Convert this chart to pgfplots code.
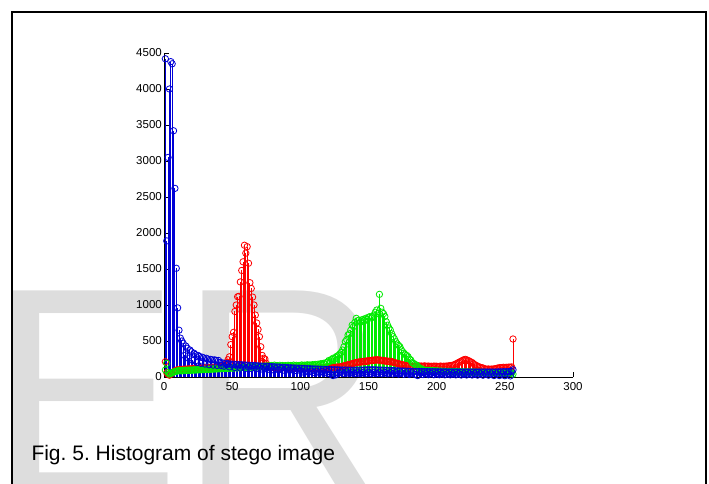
\documentclass[border=0pt]{standalone}
\usepackage{fontspec}
\setmainfont{Liberation Sans}
\usepackage{pgfplots}
\pgfplotsset{compat=1.18}
\definecolor{wm}{RGB}{221,221,221}
\definecolor{mred}{RGB}{255,0,0}
\definecolor{mgreen}{RGB}{0,235,0}
\definecolor{mblue}{RGB}{0,0,215}
\frenchspacing
\begin{document}
\begin{tikzpicture}[x=1pt,y=1pt]
\useasboundingbox (0,0) rectangle (709,483);
\clip (0,0) rectangle (709,483);
\fill[white] (0,0) rectangle (709,483);
\node[anchor=base west, inner sep=0pt, text=wm, yscale=1.04, transform shape, font=\fontsize{286}{286}\selectfont] at (-11,-12) {ER};
\draw[line width=2pt] (12,-10) -- (12,471) -- (706,471) -- (706,-10);
\node[anchor=base west, inner sep=0pt, font=\fontsize{21}{21}\selectfont] at (31.3,22.3) {Fig. 5. Histogram of stego image};
\begin{axis}[
  at={(164pt,106pt)}, anchor=south west,
  scale only axis, width=409pt, height=324pt,
  xmin=0, xmax=300, ymin=0, ymax=4500,
  axis lines*=left,
  axis line style={black, line width=0.7pt},
  xtick={0,50,...,300}, ytick={0,500,...,4500},
  tick align=inside, major tick length=5pt,
  tick style={black, line width=0.7pt},
  scaled ticks=false,
  /pgf/number format/assume math mode=true,
  /pgf/number format/1000 sep={},
  ticklabel style={font=\fontsize{11.5}{11.5}\selectfont, text=black},
  yticklabel style={anchor=east, inner sep=0pt, xshift=-2pt},
  xticklabel style={anchor=north, inner sep=0pt, yshift=-5pt},
  clip=false,
]
\addplot[mred, ycomb, line width=0.85pt, mark=o, mark size=3.2pt, mark options={line width=0.8pt}] coordinates {
(1,212)(2,60)(3,35)(4,25)(5,40)(6,55)(7,70)(8,85)(9,95)(10,100)
(11,98)(12,104)(13,100)(14,108)(15,105)(16,110)(17,108)(18,112)(19,110)(20,115)
(21,112)(22,118)(23,115)(24,120)(25,118)(26,122)(27,120)(28,125)(29,122)(30,128)
(31,125)(32,130)(33,128)(34,132)(35,130)(36,135)(37,132)(38,138)(39,135)(40,140)
(41,138)(42,145)(43,150)(44,160)(45,175)(46,200)
(47,240)(48,280)(49,450)(50,560)(51,620)(52,910)(53,1000)(54,1115)(55,1120)(56,1320)
(57,1480)(58,1600)(59,1830)(60,1720)(61,1810)(62,1580)(63,1310)(64,1230)(65,1110)(66,1000)
(67,860)(68,750)(69,660)(70,560)(71,420)(72,300)(73,260)(74,250)(75,190)(76,160)(77,140)
(78,135)(79,142)(80,130)(81,138)(82,128)(83,140)(84,132)(85,136)(86,126)(87,138)
(88,130)(89,134)(90,124)(91,136)(92,128)(93,132)(94,122)(95,134)(96,126)(97,130)
(98,120)(99,132)(100,125)(101,128)(102,120)(103,130)(104,124)(105,127)(106,118)(107,128)
(108,122)(109,126)(110,118)(111,128)(112,122)(113,126)(114,120)(115,130)(116,124)(117,128)
(118,122)(119,132)(120,126)(121,130)(122,125)(123,135)(124,130)(125,134)(126,130)(127,140)
(128,135)(129,140)(130,145)
(131,150)(132,155)(133,160)(134,165)(135,170)(136,175)(137,180)(138,185)(139,190)(140,195)
(141,200)(142,205)(143,210)(144,205)(145,215)(146,210)(147,220)(148,215)(149,225)(150,220)
(151,230)(152,225)(153,235)(154,230)(155,240)(156,235)(157,240)(158,230)(159,235)(160,225)
(161,230)(162,220)(163,225)(164,215)(165,220)(166,210)(167,215)(168,205)(169,200)(170,195)
(171,190)(172,185)(173,180)(174,175)(175,170)(176,165)(177,160)(178,158)(179,155)(180,152)
(181,150)(182,150)(183,148)(184,150)(185,148)
(186,150)(187,155)(188,148)(189,152)(190,145)(191,155)(192,150)(193,148)(194,152)(195,146)
(196,150)(197,145)(198,152)(199,148)(200,150)(201,145)(202,148)(203,152)(204,146)(205,150)
(206,148)(207,152)(208,150)(209,155)(210,158)(211,160)(212,165)(213,170)(214,180)
(215,190)(216,200)(217,210)(218,220)(219,230)(220,240)(221,245)(222,238)(223,230)(224,220)
(225,210)(226,200)(227,185)(228,170)(229,160)
(230,150)(231,140)(232,135)(233,130)(234,125)
(235,115)(236,110)(237,108)(238,112)(239,105)(240,110)(241,108)(242,112)(243,115)(244,120)(245,125)
(246,128)(247,130)(248,132)(249,135)(250,130)(251,135)(252,132)(253,138)(254,135)(255,140)
(256,528)
};
\addplot[mgreen, ycomb, line width=0.85pt, mark=o, mark size=3.2pt, mark options={line width=0.8pt}] coordinates {
(1,97)(2,190)(3,60)(4,40)(5,50)(6,60)(7,70)(8,75)(9,80)(10,85)
(11,88)(12,90)(13,85)(14,92)(15,88)(16,95)(17,90)(18,96)(19,92)(20,98)
(21,94)(22,100)(23,96)(24,102)(25,98)(26,104)(27,100)(28,106)(29,102)(30,108)
(31,104)(32,110)(33,106)(34,112)(35,108)(36,114)(37,110)(38,116)(39,112)(40,118)
(41,114)(42,120)(43,116)(44,122)(45,118)(46,124)(47,120)(48,126)(49,122)(50,128)
(51,124)(52,130)(53,126)(54,132)(55,128)(56,134)(57,130)(58,136)(59,132)(60,138)
(61,134)(62,140)(63,136)(64,142)(65,138)(66,144)(67,140)(68,146)(69,142)(70,148)
(71,144)(72,150)(73,146)(74,152)(75,148)(76,154)(77,150)(78,156)
(79,160)(80,150)(81,165)(82,155)(83,158)(84,148)(85,162)(86,152)(87,160)(88,150)
(89,158)(90,148)(91,162)(92,150)(93,160)(94,152)(95,165)(96,155)(97,162)(98,150)
(99,160)(100,155)(101,168)(102,158)(103,165)(104,155)(105,170)(106,160)(107,168)(108,158)
(109,172)(110,162)(111,175)(112,165)(113,178)(114,170)(115,185)(116,175)(117,190)(118,182)(119,200)
(120,210)(121,230)(122,220)(123,245)(124,260)(125,250)(126,275)(127,290)(128,300)(129,320)(130,340)
(131,375)(132,420)(133,490)(134,520)(135,583)(136,600)(137,650)(138,720)(139,700)(140,760)
(141,815)(142,780)(143,790)(144,760)(145,792)(146,800)(147,780)(148,815)(149,800)(150,830)
(151,838)(152,820)(153,840)(154,860)(155,900)(156,930)(157,880)(158,1148)(159,954)(160,900)
(161,880)(162,840)(163,768)(164,720)(165,680)(166,653)(167,600)(168,560)(169,530)(170,490)
(171,460)(172,440)(173,421)(174,380)(175,352)(176,330)(177,310)(178,300)(179,282)(180,250)
(181,236)(182,200)(183,190)(184,175)(185,167)(186,150)(187,130)(188,120)(189,110)(190,100)
(191,95)(192,90)(193,92)(194,88)(195,90)(196,86)(197,88)(198,84)(199,86)(200,82)
(201,84)(202,80)(203,82)(204,78)(205,80)(206,76)(207,78)(208,75)(209,77)(210,74)
(211,76)(212,73)(213,75)(214,72)(215,74)(216,71)(217,73)(218,70)(219,72)(220,70)
(221,71)(222,69)(223,70)(224,68)(225,70)(226,67)(227,69)(228,66)(229,68)(230,65)
(231,67)(232,64)(233,66)(234,63)(235,65)(236,62)(237,64)(238,61)(239,63)(240,60)
(241,62)(242,60)(243,61)(244,59)(245,60)(246,58)(247,60)(248,57)(249,59)(250,56)
(251,58)(252,55)(253,57)(254,54)(255,56)(256,40)
};
\addplot[mblue, ycomb, line width=0.85pt, mark=o, mark size=3.2pt, mark options={line width=0.8pt}] coordinates {
(1,4420)(2,1890)(3,3050)(4,4000)(5,4380)(6,4350)(7,3420)(8,2620)(9,1510)(10,960)
(11,650)(12,540)(13,500)(14,470)(15,300)(16,430)(17,400)(18,260)(19,375)(20,350)
(21,230)(22,330)(23,310)(24,200)(25,300)(26,285)(27,190)(28,275)(29,265)(30,180)
(31,260)(32,250)(33,170)(34,245)(35,240)(36,165)(37,238)(38,232)(39,160)(40,230)
(41,200)(42,160)(43,195)(44,150)(45,190)(46,170)(47,185)(48,140)(49,180)(50,165)
(51,178)(52,130)(53,175)(54,150)(55,172)(56,125)(57,170)(58,145)(59,168)(60,120)
(61,165)(62,140)(63,162)(64,118)(65,160)(66,135)(67,158)(68,115)(69,155)(70,130)
(71,152)(72,110)(73,150)(74,128)(75,148)(76,105)(77,146)(78,125)(79,144)(80,100)
(81,142)(82,120)(83,140)(84,98)(85,138)(86,118)(87,135)(88,95)(89,133)(90,115)
(91,130)(92,92)(93,128)(94,112)(95,126)(96,90)(97,124)(98,108)(99,122)(100,88)
(101,120)(102,70)(103,118)(104,85)(105,116)(106,66)(107,115)(108,82)(109,113)(110,64)
(111,112)(112,80)(113,110)(114,60)(115,108)(116,78)(117,107)(118,58)(119,105)(120,75)
(121,104)(122,40)(123,102)(124,20)(125,100)(126,30)(127,100)(128,55)(129,98)(130,72)
(131,98)(132,50)(133,97)(134,70)(135,96)(136,48)(137,96)(138,68)(139,95)(140,46)
(141,95)(142,66)(143,95)(144,45)(145,96)(146,65)(147,98)(148,44)(149,100)(150,64)
(151,100)(152,45)(153,102)(154,66)(155,100)(156,46)(157,98)(158,65)(159,97)(160,45)
(161,95)(162,64)(163,94)(164,44)(165,92)(166,62)(167,90)(168,42)(169,88)(170,60)
(171,86)(172,40)(173,85)(174,58)(175,84)(176,38)(177,82)(178,56)(179,80)(180,36)
(181,80)(182,55)(183,78)(184,35)(185,78)(186,20)(187,76)(188,52)(189,76)(190,34)
(191,75)(192,50)(193,75)(194,33)(195,74)(196,50)(197,74)(198,32)(199,73)(200,48)
(201,73)(202,32)(203,72)(204,48)(205,72)(206,30)(207,72)(208,47)(209,71)(210,30)
(211,71)(212,46)(213,70)(214,30)(215,70)(216,46)(217,70)(218,28)(219,70)(220,45)
(221,70)(222,28)(223,70)(224,45)(225,70)(226,28)(227,70)(228,45)(229,70)(230,26)
(231,70)(232,44)(233,70)(234,25)(235,70)(236,44)(237,70)(238,25)(239,70)(240,43)
(241,70)(242,20)(243,70)(244,43)(245,72)(246,20)(247,72)(248,42)(249,74)(250,18)
(251,74)(252,42)(253,76)(254,15)(255,78)(256,100)
};
\end{axis}
\end{tikzpicture}
\end{document}
